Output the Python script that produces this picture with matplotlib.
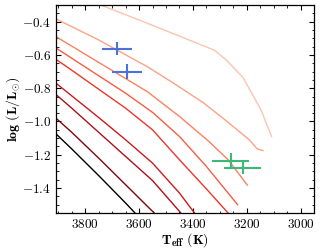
import numpy as np
import matplotlib
matplotlib.use("Agg")
import matplotlib.pyplot as plt

plt.rcParams['font.family'] = 'serif'
plt.rcParams['font.serif'] = ['cmr10', 'DejaVu Serif']
plt.rcParams['mathtext.fontset'] = 'cm'
plt.rcParams['axes.formatter.use_mathtext'] = True

# isochrones, oldest (black) to youngest (palest)
teff_1 = [3950, 3850, 3750, 3650, 3580]
logl_1 = [-1.01, -1.165, -1.325, -1.49, -1.61]

teff_2 = [3950, 3850, 3750, 3650, 3550, 3500]
logl_2 = [-0.92, -1.065, -1.22, -1.38, -1.54, -1.62]

teff_3 = [3950, 3850, 3750, 3650, 3550, 3450, 3400]
logl_3 = [-0.78, -0.92, -1.065, -1.21, -1.355, -1.54, -1.64]

teff_4 = [3950, 3850, 3750, 3650, 3550, 3450, 3380]
logl_4 = [-0.716, -0.846, -0.976, -1.11, -1.25, -1.43, -1.58]

teff_5 = [3950, 3850, 3750, 3650, 3550, 3450, 3350, 3250]
logl_5 = [-0.58, -0.692, -0.806, -0.92, -1.05, -1.23, -1.405, -1.585]

teff_6 = [3950, 3850, 3750, 3650, 3550, 3450, 3350, 3234]
logl_6 = [-0.515, -0.62, -0.725, -0.83, -0.945, -1.09, -1.27, -1.50]

teff_7 = [3950, 3850, 3750, 3650, 3569, 3449, 3340, 3268, 3198]
logl_7 = [-0.45, -0.547, -0.645, -0.742, -0.821, -0.971, -1.121, -1.232, -1.382]

teff_8 = [3950, 3908, 3750, 3569, 3461, 3360, 3280, 3190, 3161, 3140]
logl_8 = [-0.35, -0.384, -0.51, -0.671, -0.781, -0.889, -0.991, -1.111, -1.165, -1.175]

teff_9 = [3850, 3743, 3600, 3461, 3320, 3280, 3215, 3147, 3108]
logl_9 = [-0.23, -0.30, -0.39, -0.48, -0.572, -0.625, -0.733, -0.931, -1.09]

isochrones = [(teff_1, logl_1), (teff_2, logl_2), (teff_3, logl_3),
              (teff_4, logl_4), (teff_5, logl_5), (teff_6, logl_6),
              (teff_7, logl_7), (teff_8, logl_8), (teff_9, logl_9)]

# observed stars
blue_teff = [3681, 3645]
blue_logl = [-0.563, -0.701]
blue_terr = [55, 57]
blue_lerr = [0.038, 0.045]

green_teff = [3260, 3215]
green_logl = [-1.236, -1.278]
green_terr = [68, 69]
green_lerr = [0.045, 0.04]

colors = ['black'] + [plt.cm.Reds(v) for v in np.linspace(0.95, 0.22, 8)]

fig = plt.figure(figsize=(3.32, 2.49), dpi=100)
ax = fig.add_axes([0.169, 0.1446, 0.777, 0.8354])

for (t, l), c in zip(isochrones, colors):
    ax.plot(t, l, color=c, lw=1.0)

ax.errorbar(blue_teff, blue_logl, xerr=blue_terr, yerr=blue_lerr, fmt='none',
            ecolor='#4a72d8', elinewidth=1.5, capsize=0, zorder=5)
ax.errorbar(green_teff, green_logl, xerr=green_terr, yerr=green_lerr, fmt='none',
            ecolor='#3cb878', elinewidth=1.5, capsize=0, zorder=5)

ax.set_xlim(3908, 2978)
ax.set_ylim(-1.55, -0.3)
ax.set_xticks([3800, 3600, 3400, 3200, 3000])
ax.set_yticks([-0.4, -0.6, -0.8, -1.0, -1.2, -1.4])
ax.set_xticks(np.arange(2950, 3950, 50), minor=True)
ax.set_yticks(np.arange(-1.55, -0.29, 0.05), minor=True)
ax.tick_params(which='both', direction='in', top=True, right=True, labelsize=9.5)
ax.tick_params(which='major', length=3.5, width=0.8)
ax.tick_params(which='minor', length=1.8, width=0.6)
for s in ax.spines.values():
    s.set_linewidth(0.9)

ax.set_xlabel(r'$\mathbf{T_{eff}\ (K)}$', fontsize=10, labelpad=0.5)
ax.set_ylabel(r'$\mathbf{log\ (L/L_{\odot})}$', fontsize=10, labelpad=0.5)

fig.savefig('out.png', dpi=100)
